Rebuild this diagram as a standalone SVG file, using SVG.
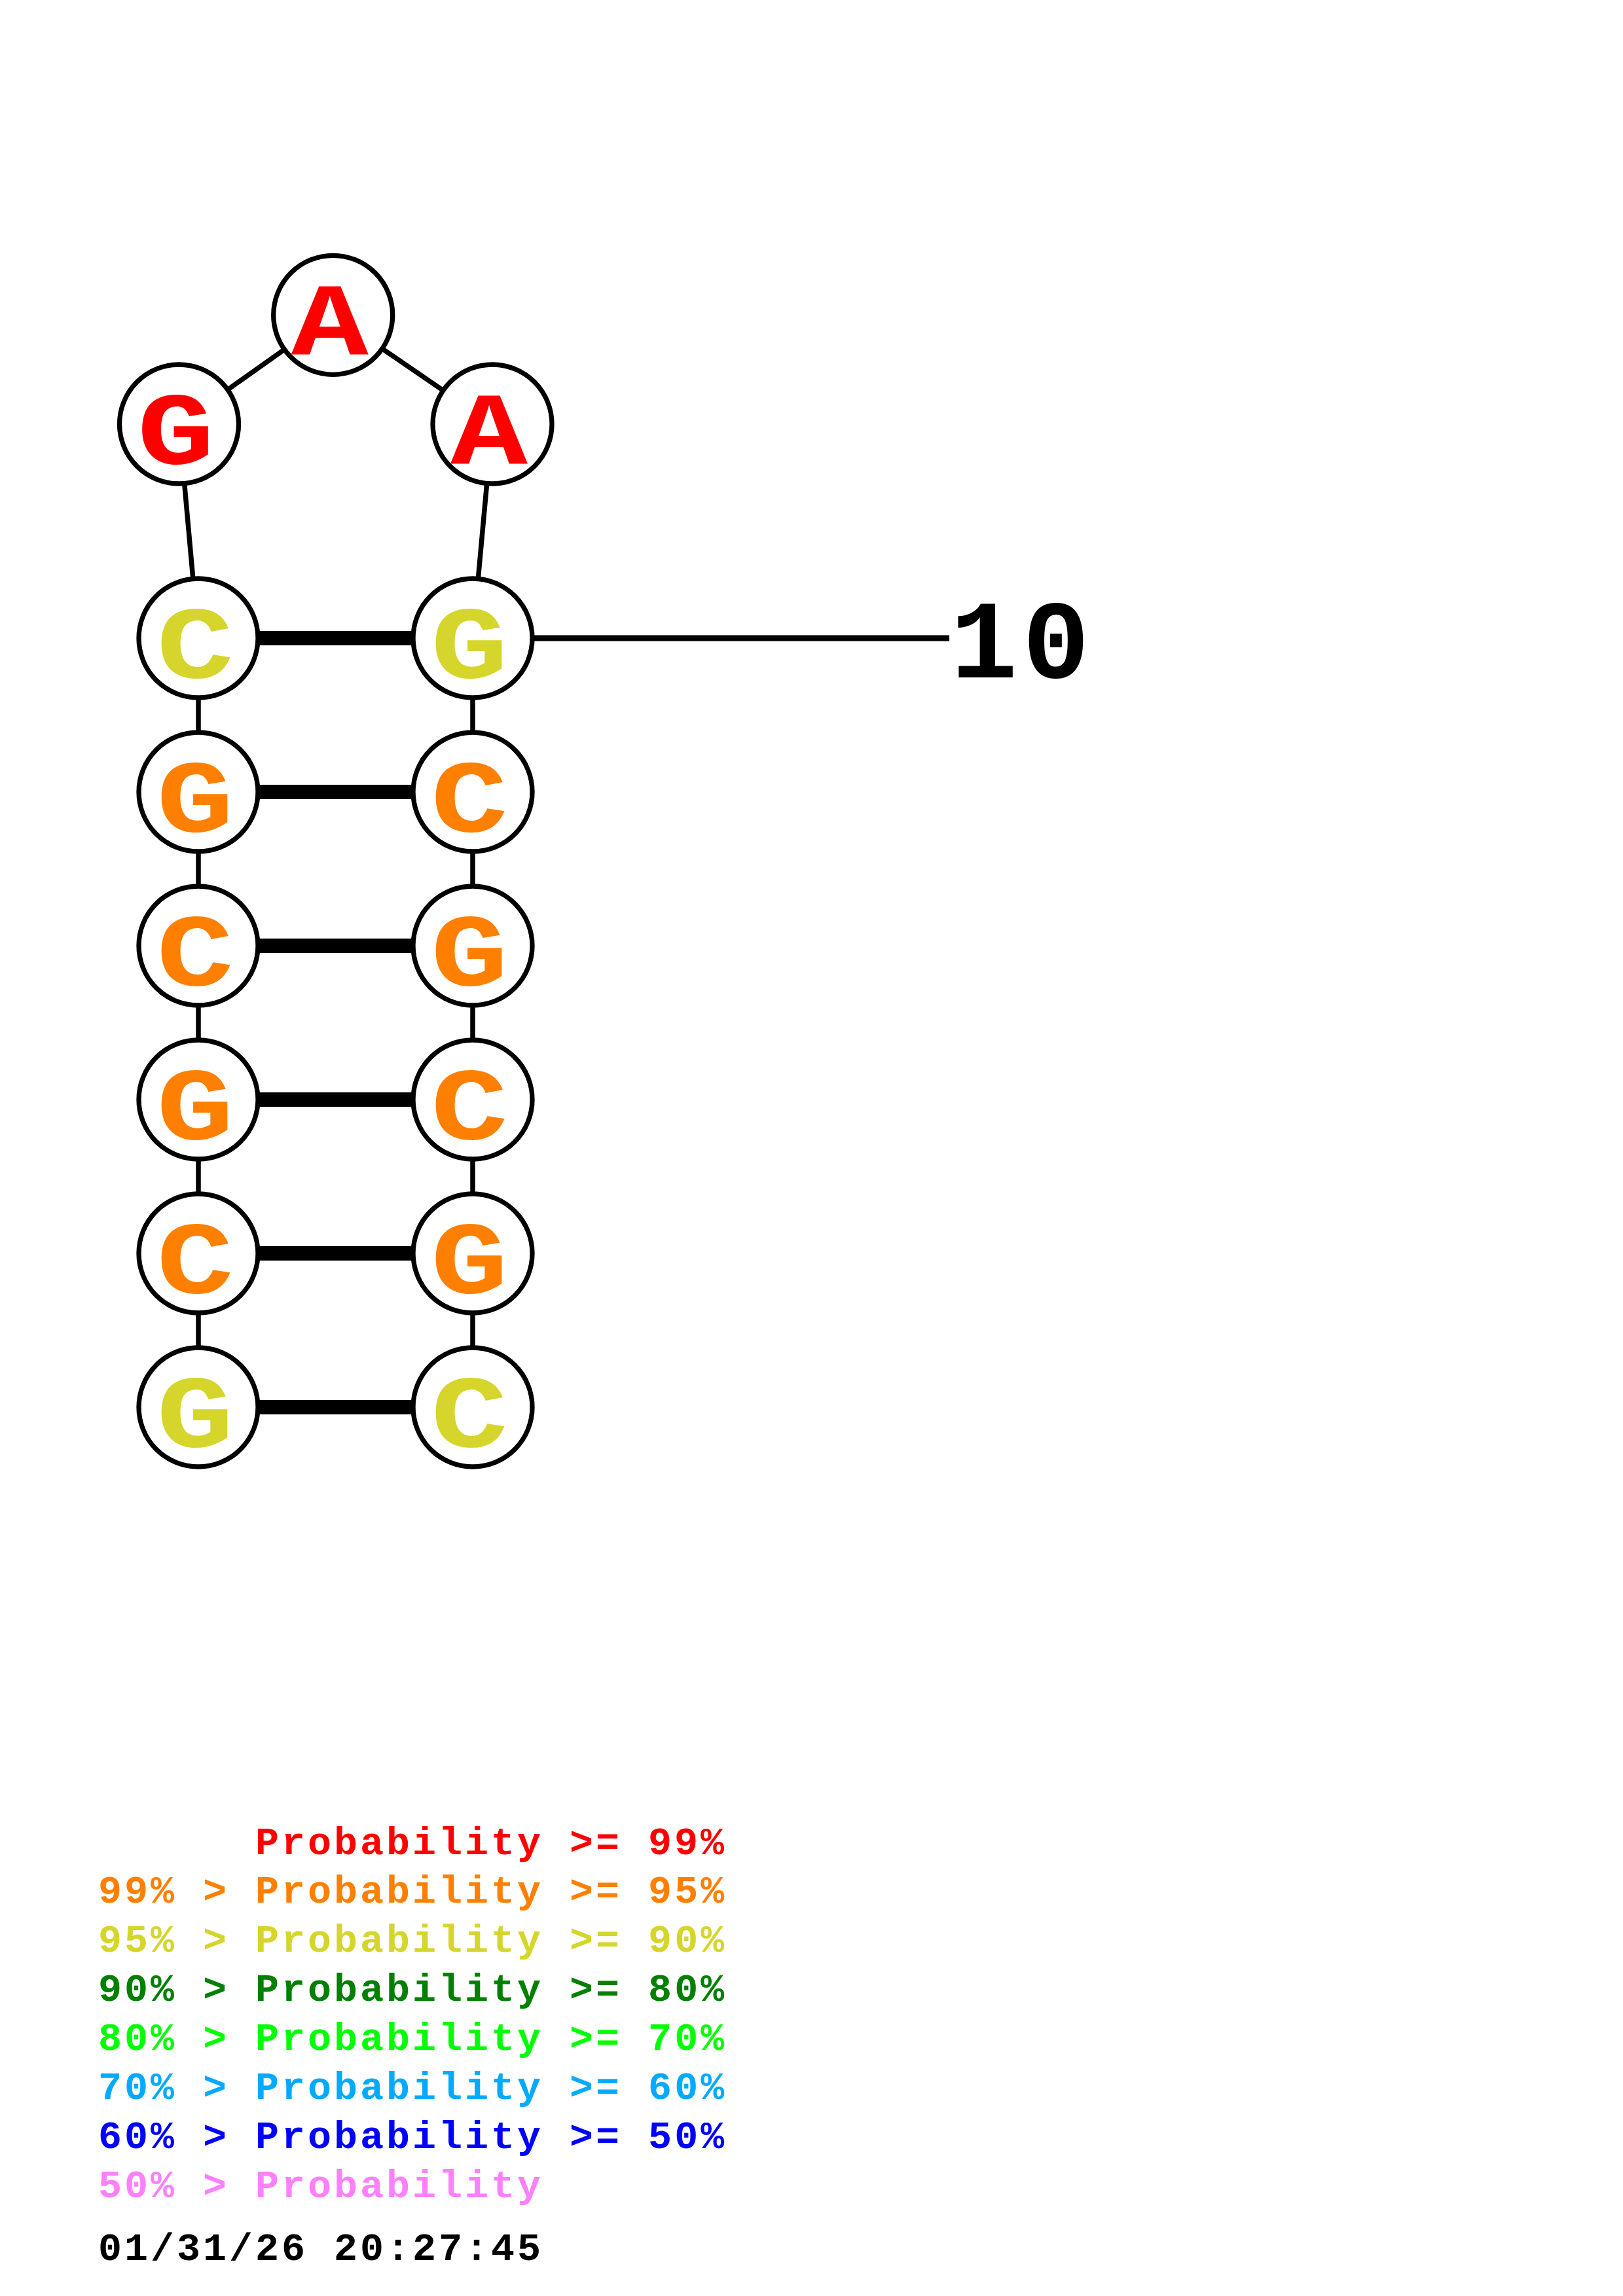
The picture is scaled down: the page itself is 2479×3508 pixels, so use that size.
<svg xmlns="http://www.w3.org/2000/svg" width="2479" height="3508" viewBox="0 0 2479 3508">
<style>
.bb{stroke:#000;stroke-width:7.5;fill:none}
.bp{stroke:#000;stroke-width:22}
.lbl{stroke:#000;stroke-width:9}
.nd{fill:#fff;stroke:#000;stroke-width:7.3}
.nt{font-family:"Liberation Mono","DejaVu Sans Mono",monospace;font-weight:bold;font-size:158px;text-anchor:middle}
.num{font-family:"Liberation Mono","DejaVu Sans Mono",monospace;font-weight:bold;font-size:170px;letter-spacing:8px;fill:#000}
.lg{font-family:"Liberation Mono","DejaVu Sans Mono",monospace;font-weight:bold;font-size:60px;letter-spacing:4px}
.red{fill:#FF0000}.org{fill:#FF8000}.yel{fill:#D5D52B}.dgr{fill:#008000}.lgr{fill:#00FF00}.lbu{fill:#00AAFF}.blu{fill:#0000FF}.pnk{fill:#FF80FF}.blk{fill:#000}
</style>
<rect width="2479" height="3508" fill="#fff"/>
<g id="connectors">
<line class="bb" x1="303" y1="975" x2="303" y2="2150"/>
<line class="bb" x1="722" y1="975" x2="722" y2="2150"/>
<polyline class="bb" points="303,975 273.5,648 508.7,481.3 752,648 722,975"/>
<line class="bp" x1="303" y1="975" x2="722" y2="975"/>
<line class="bp" x1="303" y1="1210" x2="722" y2="1210"/>
<line class="bp" x1="303" y1="1445" x2="722" y2="1445"/>
<line class="bp" x1="303" y1="1680" x2="722" y2="1680"/>
<line class="bp" x1="303" y1="1915" x2="722" y2="1915"/>
<line class="bp" x1="303" y1="2150" x2="722" y2="2150"/>
<line class="lbl" x1="722" y1="975" x2="1450" y2="975"/>
</g>
<g id="n1"><circle class="nd" cx="303" cy="2150" r="91"/><text class="nt yel" x="298" y="2209.5" textLength="118" lengthAdjust="spacingAndGlyphs">G</text></g>
<g id="n2"><circle class="nd" cx="303" cy="1915" r="91"/><text class="nt org" x="298" y="1974.5" textLength="118" lengthAdjust="spacingAndGlyphs">C</text></g>
<g id="n3"><circle class="nd" cx="303" cy="1680" r="91"/><text class="nt org" x="298" y="1739.5" textLength="118" lengthAdjust="spacingAndGlyphs">G</text></g>
<g id="n4"><circle class="nd" cx="303" cy="1445" r="91"/><text class="nt org" x="298" y="1504.5" textLength="118" lengthAdjust="spacingAndGlyphs">C</text></g>
<g id="n5"><circle class="nd" cx="303" cy="1210" r="91"/><text class="nt org" x="298" y="1269.5" textLength="118" lengthAdjust="spacingAndGlyphs">G</text></g>
<g id="n6"><circle class="nd" cx="303" cy="975" r="91"/><text class="nt yel" x="298" y="1034.5" textLength="118" lengthAdjust="spacingAndGlyphs">C</text></g>
<g id="n7"><circle class="nd" cx="273.5" cy="648" r="91"/><text class="nt red" x="268.5" y="707.5" textLength="118" lengthAdjust="spacingAndGlyphs">G</text></g>
<g id="n8"><circle class="nd" cx="508.7" cy="481.3" r="91"/><text class="nt red" x="503.7" y="540.8" textLength="118" lengthAdjust="spacingAndGlyphs">A</text></g>
<g id="n9"><circle class="nd" cx="752" cy="648" r="91"/><text class="nt red" x="747" y="707.5" textLength="118" lengthAdjust="spacingAndGlyphs">A</text></g>
<g id="n10"><circle class="nd" cx="722" cy="975" r="91"/><text class="nt yel" x="717" y="1034.5" textLength="118" lengthAdjust="spacingAndGlyphs">G</text></g>
<g id="n11"><circle class="nd" cx="722" cy="1210" r="91"/><text class="nt org" x="717" y="1269.5" textLength="118" lengthAdjust="spacingAndGlyphs">C</text></g>
<g id="n12"><circle class="nd" cx="722" cy="1445" r="91"/><text class="nt org" x="717" y="1504.5" textLength="118" lengthAdjust="spacingAndGlyphs">G</text></g>
<g id="n13"><circle class="nd" cx="722" cy="1680" r="91"/><text class="nt org" x="717" y="1739.5" textLength="118" lengthAdjust="spacingAndGlyphs">C</text></g>
<g id="n14"><circle class="nd" cx="722" cy="1915" r="91"/><text class="nt org" x="717" y="1974.5" textLength="118" lengthAdjust="spacingAndGlyphs">G</text></g>
<g id="n15"><circle class="nd" cx="722" cy="2150" r="91"/><text class="nt yel" x="717" y="2209.5" textLength="118" lengthAdjust="spacingAndGlyphs">C</text></g>
<g id="label10"><text class="num" x="1452" y="1035">10</text></g>
<g id="legend">
<text class="lg red" x="390" y="2833">Probability &gt;= 99%</text>
<text class="lg org" x="150" y="2907">99% &gt; Probability &gt;= 95%</text>
<text class="lg yel" x="150" y="2982">95% &gt; Probability &gt;= 90%</text>
<text class="lg dgr" x="150" y="3057">90% &gt; Probability &gt;= 80%</text>
<text class="lg lgr" x="150" y="3132">80% &gt; Probability &gt;= 70%</text>
<text class="lg lbu" x="150" y="3207">70% &gt; Probability &gt;= 60%</text>
<text class="lg blu" x="150" y="3282">60% &gt; Probability &gt;= 50%</text>
<text class="lg pnk" x="150" y="3357">50% &gt; Probability</text>
<text class="lg blk" x="150" y="3453">01/31/26 20:27:45</text>
</g>
</svg>
